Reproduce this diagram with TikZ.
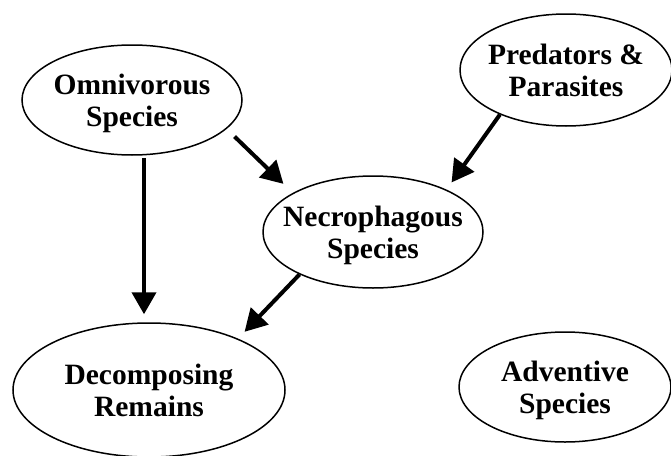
\documentclass[tikz,border=0pt]{standalone}
\usepackage{fontspec}
\setmainfont{Liberation Serif}
\usetikzlibrary{shapes.geometric,arrows.meta}
\begin{document}
\begin{tikzpicture}[x=1pt,y=-1pt,
  blob/.style={ellipse,draw,line width=1.5pt,inner xsep=-40pt,inner ysep=0pt,align=center,
    text depth=-3pt,font=\bfseries\fontsize{29.5}{32}\selectfont},
  arr/.style={line width=4pt,-{Triangle[width=24pt,length=22pt]}}]
\useasboundingbox (0,0) rectangle (671,455);
\node[blob,minimum width=220pt,minimum height=110pt] (omn) at (132,100) {Omnivorous\\Species};
\node[blob,minimum width=212pt,minimum height=112pt] (pred) at (566,70) {Predators \&\\Parasites};
\node[blob,minimum width=220pt,minimum height=112pt] (nec) at (373,232) {Necrophagous\\Species};
\node[blob,minimum width=272pt,minimum height=134pt] (dec) at (149,390) {Decomposing\\Remains};
\node[blob,minimum width=212pt,minimum height=110pt] (adv) at (565,387) {Adventive\\Species};
\draw[arr,shorten <=2pt,shorten >=8pt] ([xshift=12pt]omn.south) -- ([xshift=12pt]omn.south |- dec.north);
\draw[arr,shorten <=11pt,shorten >=13pt] (omn.-17.5) -- (nec.154.8);
\draw[arr,shorten >=8.7pt] (pred.214.8) -- (nec.30);
\draw[arr,shorten >=9.4pt] (nec.210.3) -- (dec.30.45);
\end{tikzpicture}
\end{document}
